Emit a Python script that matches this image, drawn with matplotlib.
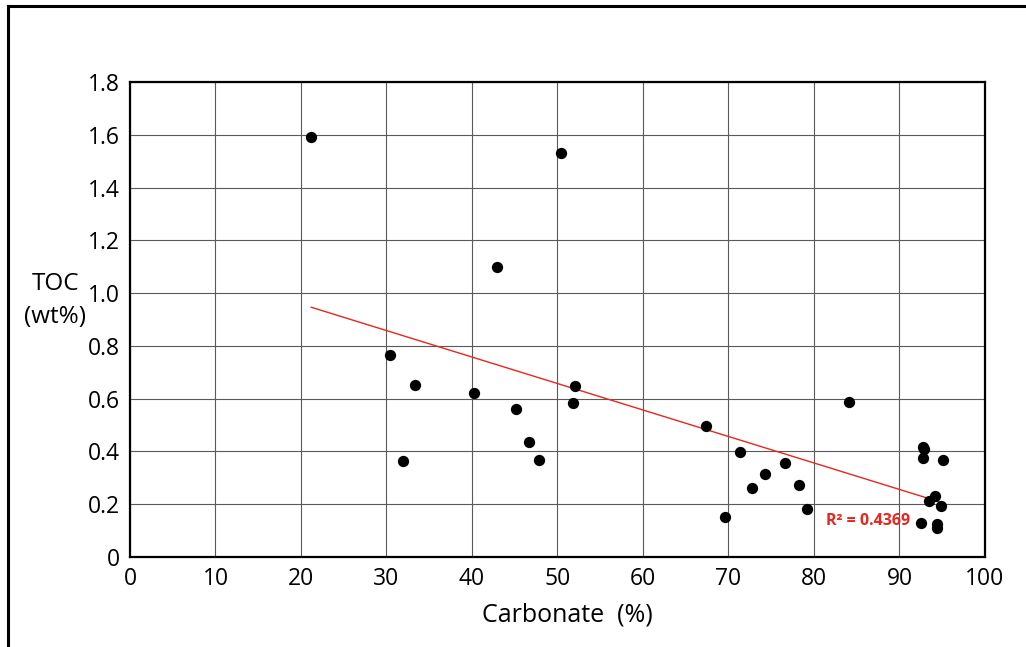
import numpy as np
import matplotlib
matplotlib.use("Agg")
import matplotlib.pyplot as plt
from matplotlib.lines import Line2D

plt.rcParams['font.family'] = ['Open Sans', 'DejaVu Sans']

# carbonate (%) vs TOC (wt%)
carbonate = [21.2, 50.4, 42.9, 30.4, 33.3, 31.9, 40.2, 45.1, 46.7, 47.8,
             52.1, 51.8, 67.4, 69.6, 71.3, 72.7, 74.3, 76.6, 78.2, 79.2,
             84.1, 92.8, 92.9, 92.8, 95.1, 94.1, 93.5, 94.8, 92.5, 94.4, 94.4]
toc = [1.59, 1.53, 1.10, 0.765, 0.65, 0.365, 0.62, 0.56, 0.436, 0.367,
       0.648, 0.583, 0.498, 0.151, 0.397, 0.262, 0.314, 0.358, 0.274, 0.183,
       0.587, 0.418, 0.41, 0.377, 0.368, 0.233, 0.214, 0.194, 0.128, 0.125, 0.109]
r2_text = "R² = 0.4369"

xticks = list(range(0, 101, 10))
yticks = [0, 0.2, 0.4, 0.6, 0.8, 1.0, 1.2, 1.4, 1.6, 1.8]
ylabels = ["0", "0.2", "0.4", "0.6", "0.8", "1.0", "1.2", "1.4", "1.6", "1.8"]

fig = plt.figure(figsize=(10.26, 6.47), dpi=100)
ax = fig.add_axes([0.1267, 0.1391, 0.8333, 0.7342])

# linear trend over the data range
x = np.array(carbonate)
y = np.array(toc)
k, b = np.polyfit(x, y, 1)
xs = np.array([x.min(), x.max()])
ax.plot(xs, k * xs + b, color='#e8261f', lw=1.0, zorder=3)

ax.scatter(x, y, s=66, color='black', zorder=4, linewidths=0)

ax.text(81.4, 0.137, r2_text, color='#e8261f', fontsize=11.5, fontweight='bold',
        va='center', ha='left')

ax.set_xlim(0, 100)
ax.set_ylim(0, 1.8)
ax.set_xticks(xticks)
ax.set_yticks(yticks)
ax.set_yticklabels(ylabels)
ax.tick_params(length=0, labelsize=16.5, pad=7)
ax.grid(True, color='#5a5a5a', lw=0.8)
ax.set_axisbelow(True)
for s in ax.spines.values():
    s.set_linewidth(1.6)

ax.set_xlabel("Carbonate  (%)", fontsize=18)
ax.xaxis.set_label_coords(0.511, -0.095)
fig.text(0.054, 0.535, "TOC\n(wt%)", fontsize=17.5, ha='center', va='center',
         linespacing=1.5)

# outer frame (left and top edges)
fig.add_artist(Line2D([0.0078, 0.0078], [0, 0.991], transform=fig.transFigure,
                      color='black', lw=2.2))
fig.add_artist(Line2D([0.0078, 1.0], [0.991, 0.991], transform=fig.transFigure,
                      color='black', lw=2.2))

fig.savefig("out.png", dpi=100)
